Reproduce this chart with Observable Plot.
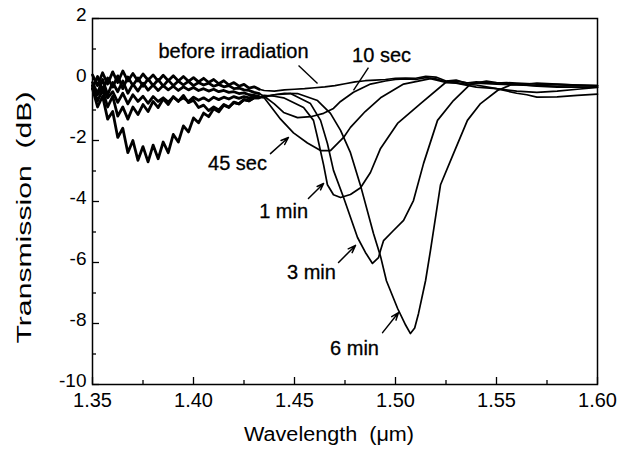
<!DOCTYPE html>
<html><head><meta charset="utf-8">
<script src="https://cdn.jsdelivr.net/npm/d3@7"></script>
<script src="https://cdn.jsdelivr.net/npm/@observablehq/plot@0.6"></script>
<style>
html,body{margin:0;padding:0;background:#fff;}
</style></head><body><div id="chart"></div>
<script>
// Wavelength samples of the noisy short-wavelength region (µm)
const xNoise = [1.3500,1.3525,1.3550,1.3575,1.3600,1.3625,1.3650,1.3675,1.3700,1.3725,1.3750,1.3775,1.3800,1.3825,1.3850,1.3875,1.3900,1.3925,1.3950,1.3975,1.4000,1.4025,1.4050,1.4075,1.4100,1.4125,1.4150,1.4175,1.4200,1.4225,1.4250,1.4275,1.4300,1.4325];

// Transmission (dB) read in the noisy region
const noiseBefore = [0.15,-0.2,0.22,-0.15,0.25,-0.1,0.28,-0.05,0.2,-0.05,0.18,-0.02,0.15,-0.05,0.14,-0.04,0.12,-0.05,0.1,-0.06,0.06,-0.08,0.04,-0.1,0.0,-0.14,-0.04,-0.18,-0.1,-0.22,-0.16,-0.28,-0.24,-0.32];
const noise10s = [-0.3,0.1,-0.35,0.05,-0.25,0.12,-0.3,0.08,-0.2,0.05,-0.22,0.02,-0.2,0.0,-0.22,-0.02,-0.2,-0.05,-0.18,-0.06,-0.2,-0.1,-0.18,-0.12,-0.22,-0.16,-0.24,-0.2,-0.3,-0.28,-0.34,-0.36,-0.42,-0.46];
const noise45s = [-0.1,-0.45,0.0,-0.5,-0.1,-0.4,-0.05,-0.45,-0.15,-0.38,-0.12,-0.35,-0.18,-0.36,-0.2,-0.34,-0.22,-0.36,-0.24,-0.34,-0.26,-0.36,-0.3,-0.38,-0.32,-0.4,-0.36,-0.42,-0.4,-0.46,-0.44,-0.5,-0.52,-0.56];
const noise1m = [-0.2,-0.5,-0.25,-0.6,-0.4,-0.75,-0.45,-0.8,-0.5,-0.72,-0.55,-0.78,-0.56,-0.72,-0.6,-0.74,-0.58,-0.7,-0.6,-0.72,-0.58,-0.68,-0.6,-0.7,-0.58,-0.66,-0.58,-0.64,-0.56,-0.62,-0.56,-0.6,-0.56,-0.58];
const noise3m = [-0.2,-0.7,-0.35,-0.9,-0.55,-1.2,-0.9,-1.3,-0.9,-1.15,-0.82,-1.05,-0.72,-0.92,-0.64,-0.82,-0.56,-0.72,-0.52,-0.76,-0.68,-0.92,-0.84,-1.02,-0.9,-1.0,-0.82,-0.9,-0.76,-0.8,-0.66,-0.7,-0.6,-0.6];
const noise6m = [-0.3,-0.9,-0.55,-1.3,-1.05,-1.9,-1.6,-2.4,-2.0,-2.65,-2.2,-2.7,-2.15,-2.6,-2.05,-2.4,-1.8,-2.05,-1.52,-1.72,-1.26,-1.42,-1.1,-1.22,-0.96,-1.06,-0.84,-0.92,-0.74,-0.8,-0.66,-0.7,-0.6,-0.6];

// [wavelength µm, transmission dB] beyond the noisy region
const tailBefore = [[1.4325,-0.32],[1.435,-0.36],[1.44,-0.38],[1.445,-0.34],[1.45,-0.32],[1.455,-0.3],[1.46,-0.27],[1.465,-0.24],[1.47,-0.2],[1.475,-0.14],[1.48,-0.08],[1.485,-0.04],[1.49,-0.02],[1.495,0.0],[1.50,0.04],[1.505,0.05],[1.51,0.04],[1.515,0.1],[1.52,0.08],[1.525,-0.05],[1.53,-0.02],[1.535,-0.12],[1.54,-0.08],[1.545,-0.1],[1.55,-0.12],[1.555,-0.1],[1.56,-0.12],[1.57,-0.15],[1.58,-0.16],[1.59,-0.18],[1.60,-0.2]];
const tail10s = [[1.4325,-0.46],[1.435,-0.55],[1.44,-0.8],[1.4446,-1.08],[1.4515,-1.25],[1.458,-1.22],[1.4644,-1.11],[1.4693,-0.95],[1.4728,-0.72],[1.4792,-0.42],[1.4876,-0.15],[1.495,-0.05],[1.50,0.0],[1.505,0.02],[1.51,0.0],[1.515,0.06],[1.52,0.02],[1.525,-0.08],[1.53,-0.1],[1.535,-0.16],[1.54,-0.18],[1.55,-0.3],[1.56,-0.38],[1.57,-0.42],[1.58,-0.38],[1.59,-0.32],[1.60,-0.26]];
const tail45s = [[1.4325,-0.56],[1.435,-0.6],[1.4431,-1.3],[1.4495,-1.75],[1.4564,-2.08],[1.4629,-2.33],[1.4678,-2.33],[1.4743,-1.9],[1.4777,-1.57],[1.485,-1.05],[1.4926,-0.6],[1.504,-0.15],[1.5173,0.03],[1.525,-0.1],[1.53,-0.12],[1.54,-0.25],[1.55,-0.3],[1.56,-0.45],[1.565,-0.5],[1.57,-0.58],[1.58,-0.57],[1.59,-0.52],[1.60,-0.48]];
const tail1m = [[1.4325,-0.58],[1.435,-0.52],[1.44,-0.55],[1.4446,-0.6],[1.4545,-0.92],[1.4594,-1.34],[1.4614,-1.9],[1.4644,-2.8],[1.4663,-3.45],[1.4693,-3.78],[1.4728,-3.87],[1.4777,-3.77],[1.4827,-3.55],[1.4876,-3.05],[1.4926,-2.26],[1.501,-1.44],[1.5124,-0.79],[1.5257,-0.05],[1.53,-0.05],[1.535,-0.1],[1.54,-0.12],[1.55,-0.15],[1.56,-0.18],[1.57,-0.2],[1.58,-0.22],[1.59,-0.2],[1.60,-0.22]];
const tail3m = [[1.4325,-0.6],[1.435,-0.58],[1.44,-0.5],[1.448,-0.46],[1.4579,-0.79],[1.4629,-1.34],[1.4663,-2.1],[1.4693,-2.98],[1.4743,-3.87],[1.4812,-5.18],[1.4851,-5.67],[1.4886,-6.03],[1.4916,-5.84],[1.4926,-5.6],[1.4941,-5.28],[1.499,-4.95],[1.504,-4.62],[1.5089,-3.97],[1.5139,-2.75],[1.5208,-1.34],[1.5287,-0.69],[1.5371,-0.15],[1.545,-0.05],[1.55,-0.1],[1.56,-0.15],[1.57,-0.22],[1.58,-0.25],[1.59,-0.25],[1.60,-0.25]];
const tail6m = [[1.4325,-0.6],[1.435,-0.55],[1.44,-0.5],[1.445,-0.45],[1.4515,-0.46],[1.4614,-0.69],[1.4678,-1.11],[1.4728,-1.67],[1.4777,-2.4],[1.4827,-3.48],[1.4891,-5.05],[1.4926,-5.8],[1.4955,-6.6],[1.501,-7.5],[1.505,-8.05],[1.5074,-8.33],[1.5095,-8.15],[1.5114,-7.67],[1.5149,-6.59],[1.5173,-5.61],[1.5223,-3.45],[1.5287,-2.43],[1.5356,-1.34],[1.5421,-0.79],[1.5505,-0.36],[1.557,-0.18],[1.565,-0.15],[1.57,-0.12],[1.58,-0.15],[1.59,-0.18],[1.60,-0.2]];

const seriesNames = ["before irradiation","10 sec","45 sec","1 min","3 min","6 min"];
const noiseSets = [noiseBefore,noise10s,noise45s,noise1m,noise3m,noise6m];
const tailSets = [tailBefore,tail10s,tail45s,tail1m,tail3m,tail6m];

// annotation labels and their pointer lines
const labelText = ["before irradiation","10 sec","45 sec","1 min","3 min","6 min"];
const labelX = [1.4198,1.4931,1.4218,1.4446,1.4584,1.4797];
const labelY = [0.92,0.79,-2.75,-4.33,-6.33,-8.82];
const ptrFrom = [[1.452,0.46],[1.4866,0.39],[1.4381,-2.43],[1.4569,-3.90],[1.4718,-6.0],[1.4936,-8.30]];
const ptrTo = [[1.4614,-0.13],[1.4792,-0.36],[1.447,-1.90],[1.4644,-3.41],[1.4802,-5.44],[1.5015,-7.64]];
const ptrHead = [false,false,true,true,true,true];

const xMajor = [1.35,1.40,1.45,1.50,1.55,1.60];
const xMinor = [1.375,1.425,1.475,1.525,1.575];
const yMajor = [-10,-8,-6,-4,-2,0,2];
const yMinor = [-9,-7,-5,-3,-1,1];

const noisy = seriesNames.flatMap((name, k) => xNoise.map((x, i) => ({name, x, y: noiseSets[k][i]})));
const smooth = seriesNames.flatMap((name, k) => tailSets[k].map(([x, y]) => ({name, x, y})));
const labels = labelText.map((t, i) => ({t, x: labelX[i], y: labelY[i]}));
const ptrs = ptrFrom.map((f, i) => ({x1: f[0], y1: f[1], x2: ptrTo[i][0], y2: ptrTo[i][1], head: ptrHead[i]}));

const W = 630, H = 454, ML = 92, MR = 33, MT = 18, MB = 70;
const FW = W - ML - MR, FH = H - MT - MB;
const font = "Liberation Sans, Arial, Helvetica, sans-serif";

const plot = Plot.plot({
  width: W, height: H,
  marginLeft: ML, marginRight: MR, marginTop: MT, marginBottom: MB,
  x: {domain: [1.35, 1.60]},
  y: {domain: [-10, 2]},
  style: {fontFamily: font, color: "#000", background: "#fff", overflow: "visible"},
  marks: [
    Plot.tickX(xMajor, {x: d => d, insetTop: FH - 7, stroke: "#000", strokeWidth: 1.3}),
    Plot.tickX(xMinor, {x: d => d, insetTop: FH - 4, stroke: "#000", strokeWidth: 1.3}),
    Plot.tickY(yMajor, {y: d => d, insetRight: FW - 7, stroke: "#000", strokeWidth: 1.3}),
    Plot.tickY(yMinor, {y: d => d, insetRight: FW - 4, stroke: "#000", strokeWidth: 1.3}),
    Plot.axisX({ticks: xMajor, tickSize: 0, tickPadding: 8, tickFormat: d3.format(".2f"), fontSize: 20, label: null}),
    Plot.axisY({ticks: yMajor, tickSize: 0, tickPadding: 6, dy: -4, tickFormat: d => String(d), fontSize: 19, label: null}),
    Plot.frame({stroke: "#000", strokeWidth: 1.5}),
    Plot.line(noisy, {x: "x", y: "y", z: "name", stroke: "#000", strokeWidth: 2.8, strokeLinejoin: "round"}),
    Plot.line(smooth, {x: "x", y: "y", z: "name", stroke: "#000", strokeWidth: 1.7, strokeLinejoin: "round"}),
    Plot.link(ptrs.filter(d => !d.head), {x1: "x1", y1: "y1", x2: "x2", y2: "y2", stroke: "#000", strokeWidth: 1.4}),
    Plot.arrow(ptrs.filter(d => d.head), {x1: "x1", y1: "y1", x2: "x2", y2: "y2", stroke: "#000", strokeWidth: 1.5, headLength: 8, headAngle: 40}),
    Plot.text(labels, {x: "x", y: "y", text: "t", fontSize: 20, fill: "#000", stroke: "#000", strokeWidth: 0.3}),
    Plot.text(["Wavelength  (μm)"], {frameAnchor: "bottom", textAnchor: "start", dx: -101, dy: 56, fontSize: 20, fill: "#000"}),
    Plot.text(["Transmission  (dB)"], {frameAnchor: "left", textAnchor: "start", dx: -68, dy: 142, rotate: -90, fontSize: 20, fill: "#000"})
  ]
});

plot.querySelectorAll("text").forEach(t => {
  const s = t.textContent;
  if (s.startsWith("Wavelength")) { t.setAttribute("textLength", 170); t.setAttribute("lengthAdjust", "spacingAndGlyphs"); }
  if (s.startsWith("Transmission")) { t.setAttribute("textLength", 252); t.setAttribute("lengthAdjust", "spacingAndGlyphs"); }
});
document.getElementById("chart").appendChild(plot);
</script></body></html>
